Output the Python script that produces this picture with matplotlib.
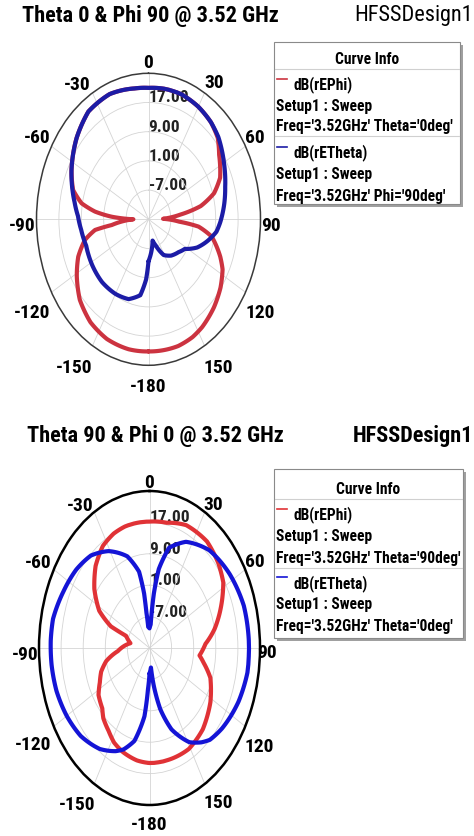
import numpy as np
import matplotlib
matplotlib.use('Agg')
import matplotlib.pyplot as plt
from matplotlib import font_manager as fm
from matplotlib.ticker import MultipleLocator
from matplotlib.patches import Rectangle
from matplotlib.lines import Line2D

W, H = 474, 836

# ---------------- data ----------------
r_min, r_max = -15, 25
ring_values = [-7, 1, 9, 17]
theta_tick_deg = [0, 30, 60, 90, 120, 150, 180, 210, 240, 270, 300, 330]
theta_tick_labels = ['0', '30', '60', '90', '120', '150', '-180',
                     '-150', '-120', '-90', '-60', '-30']

# Plot 1 : Theta 0 & Phi 90
p1_phi_ang = [-180, -168.7, -155.6, -143.7, -132, -121.4, -112.2, -104, -98.7,
              -96.8, -90, -86.9, -83.7, -79.6, -73.4, -64, -49, -36, -22, -8,
              0, 9, 19, 30, 40, 48, 55, 66, 73, 79, 83.5, 88.5, 93.4, 96.4,
              101.9, 111.8, 117.4, 126, 136, 147, 154, 163, 180]
p1_phi_db = [21.2, 21.3, 21.0, 20.0, 18.0, 15.0, 12.1, 8.4, 4.3,
             -1.8, -9.6, -1.8, 4.2, 9.3, 13.1, 15.6, 19.0, 21.5, 22.0, 21.2,
             21.0, 21.2, 21.2, 20.6, 19.7, 18.3, 15.8, 13.0, 9.5, 4.0, -3.5,
             -9.8, -4.0, 3.0, 8.1, 12.6, 14.8, 16.8, 18.6, 20.2, 20.9, 21.3,
             21.2]

p1_theta_ang = [-180, -177, -172, -162, -150, -136, -122, -108, -97, -88, -80,
                -74, -64, -49, -36, -22, -8, 0, 9, 19, 30, 40, 48, 60.5, 72,
                81, 92, 98, 106, 114, 122, 130, 141, 151, 160, 166, 180]
p1_theta_db = [-3.5, 1.5, 6.0, 8.0, 8.6, 8.9, 8.7, 8.4, 9.2, 10.2, 11.8,
               13.2, 15.6, 19.0, 21.5, 22.0, 21.2, 21.0, 21.2, 21.2, 20.6,
               19.7, 18.6, 16.0, 13.8, 12.4, 10.6, 9.5, 6.8, 4.0, 0.3, -1.0,
               -2.2, -3.8, -7.3, -9.0, -3.5]

# Plot 2 : Theta 90 & Phi 0
p2_phi_ang = [-180, -171, -160, -152, -145, -137, -132, -123, -116, -109, -102,
              -94, -80, -70, -68.5, -62.5, -53, -43, -33, -24, -16, 0, 11, 23,
              37.5, 49, 58, 65, 71, 78.5, 87, 96, 101, 109, 122, 137, 151,
              167, 180]
p2_phi_db = [14.3, 14.0, 13.2, 12.3, 10.8, 9.5, 8.0, 7.0, 5.0, 3.5, 1.0,
             -3.5, -8.0, -6.0, 0.0, 5.5, 10.0, 13.6, 16.0, 16.9, 17.2, 17.2,
             17.5, 19.0, 19.2, 18.0, 16.5, 14.0, 11.8, 9.0, 5.3, 3.2, 5.0,
             8.3, 11.0, 13.3, 14.4, 14.3, 14.3]

p2_theta_ang = [-180, -177, -174, -167, -160, -155, -145, -132, -120, -108,
                -97, -87, -78, -65, -53, -42, -31, -19, -11, -8, -7, -5, 0, 4,
                5, 6.5, 9.5, 15.5, 26, 41, 57, 72.5, 87, 100, 113, 128, 137,
                142, 149, 159, 166, 171, 174, 180]
p2_theta_db = [-8.5, -4.5, 2.5, 9.3, 12.5, 14.0, 16.4, 18.5, 19.6, 20.4,
               20.7, 20.8, 20.7, 19.3, 18.2, 16.7, 13.8, 9.7, 4.8, -1.0, -6.0,
               -9.6, -10.0, -9.0, -6.0, -1.0, 5.4, 11.5, 15.1, 18.0, 19.6,
               20.8, 21.0, 21.0, 20.0, 18.3, 17.0, 15.5, 13.0, 7.2, 1.0, -5.5,
               -10.0, -8.5]

titles = ["Theta 0 & Phi 90 @ 3.52 GHz", "Theta 90 & Phi 0 @ 3.52 GHz"]
design = "HFSSDesign1"
legend_title = "Curve Info"
legend_series = ["dB(rEPhi)", "dB(rETheta)"]
legend_setup = "Setup1 : Sweep"
legend_freq = [["Freq='3.52GHz' Theta='0deg'", "Freq='3.52GHz' Phi='90deg'"],
               ["Freq='3.52GHz' Theta='90deg'", "Freq='3.52GHz' Theta='0deg'"]]


# ---------------- font choice ----------------
def pick_font():
    entries = fm.fontManager.ttflist
    names = {e.name for e in entries}
    for nm in ['Liberation Sans Narrow', 'Arial Narrow']:
        if nm in names:
            return dict(family=[nm, 'DejaVu Sans'], stretch='normal'), 1.0
    for nm in ['Roboto Condensed', 'Open Sans Condensed', 'Noto Sans Condensed',
               'DejaVu Sans Condensed']:
        if nm in names:
            return dict(family=[nm, 'DejaVu Sans'], stretch='normal'), 1.0
    for nm in ['Liberation Sans', 'Roboto', 'Noto Sans', 'Open Sans',
               'DejaVu Sans', 'Lato', 'Inter']:
        for e in entries:
            if e.name == nm and str(e.stretch) in ('condensed', 'semi-condensed',
                                                    'extra-condensed'):
                return dict(family=[nm, 'DejaVu Sans'], stretch=e.stretch), 1.0
    return dict(family=['Liberation Sans', 'DejaVu Sans'], stretch='normal'), 0.88


FONT, SCALE = pick_font()
plt.rcParams['font.family'] = FONT['family']

# ---------------- styles ----------------
styles = [
    dict(red='#cc3340', blue='#1c1ca6', spine='#3a3a3a', spine_lw=1.1,
         box=(36.5, 73.3, 224, 292), title_xy=(22, 16), design_weight='normal',
         legend_box=(274, 42, 186, 162),
         rows=[58, 85, 107, 127, 153, 175, 196], hline=69, sep=136,
         dash=[79, 147],
         label_xy=[(148, 63), (214, 83), (255, 138), (271, 226), (260, 313),
                   (218, 368), (148, 387), (74, 368), (32, 313), (22, 226),
                   (37, 138), (77, 85)]),
    dict(red='#e03236', blue='#1414d6', spine='#000000', spine_lw=1.8,
         box=(39, 491, 221, 314), title_xy=(27, 436), design_weight='bold',
         legend_box=(274, 469, 189, 169),
         rows=[488, 515, 537, 558, 584, 605, 626], hline=499, sep=568,
         dash=[509, 577],
         label_xy=[(149, 483), (213, 505), (255, 562), (267, 653), (259, 747),
                   (218, 803), (149, 825), (77, 805), (33, 745), (25, 655),
                   (38, 563), (80, 506)]),
]
series = [((p1_phi_ang, p1_phi_db), (p1_theta_ang, p1_theta_db)),
          ((p2_phi_ang, p2_phi_db), (p2_theta_ang, p2_theta_db))]

fig = plt.figure(figsize=(W / 100, H / 100), dpi=100)
fig.patch.set_facecolor('white')


def fx(x):
    return x / W


def fy(y):
    return 1 - y / H


def ftext(x, y, s, size, weight='bold', ha='left', va='center', **kw):
    return fig.text(fx(x), fy(y), s, fontsize=size * SCALE, fontweight=weight,
                    ha=ha, va=va, family=FONT['family'],
                    fontstretch=FONT['stretch'], **kw)


for i, st in enumerate(styles):
    x0, y0, bw, bh = st['box']
    ax = fig.add_axes([fx(x0), fy(y0 + bh), bw / W, bh / H], projection='polar')
    ax.set_aspect('auto')
    ax.set_theta_zero_location('N')
    ax.set_theta_direction(-1)
    ax.set_ylim(r_min, r_max)
    ax.set_yticks(ring_values)
    ax.set_yticklabels([])
    ax.set_thetagrids(theta_tick_deg, [''] * len(theta_tick_deg))
    ax.xaxis.set_minor_locator(MultipleLocator(np.deg2rad(10 / 3)))
    ax.tick_params(axis='x', which='major', direction='in', length=5.5,
                   width=1.0, color=st['spine'])
    ax.tick_params(axis='x', which='minor', direction='in', length=3.5,
                   width=0.8, color=st['spine'])
    ax.grid(True, color='#d4d4d4', lw=0.6)
    ax.spines['polar'].set_color(st['spine'])
    ax.spines['polar'].set_linewidth(st['spine_lw'])
    for v in ring_values:
        ax.text(0, v, f'{v:.2f}', ha='left', va='baseline',
                fontsize=12.5 * SCALE, fontweight='bold', color='#222222',
                zorder=1, family=FONT['family'], fontstretch=FONT['stretch'])
    (pa, pd), (ta, td) = series[i]
    for a, d, c, z in ((pa, pd, st['red'], 3), (ta, td, st['blue'], 4)):
        ln, = ax.plot(np.deg2rad(a), d, color=c, lw=3, zorder=z,
                      solid_joinstyle='round', solid_capstyle='round')
        ln.get_path()._interpolation_steps = 24

    # angle labels
    for (lx_, ly_), lab in zip(st['label_xy'], theta_tick_labels):
        ftext(lx_, ly_, lab, 14, ha='center')

    # titles
    ftext(st['title_xy'][0], st['title_xy'][1], titles[i], 16)
    ftext(473, st['title_xy'][1], design, 16, weight=st['design_weight'],
          ha='right')

    # legend box
    lx, ly, lw_, lh = st['legend_box']
    fig.patches.append(Rectangle((fx(lx + 3), fy(ly + lh + 3)), lw_ / W, lh / H,
                                 transform=fig.transFigure, facecolor='#a0a0a0',
                                 edgecolor='none', zorder=1))
    fig.patches.append(Rectangle((fx(lx), fy(ly + lh)), lw_ / W, lh / H,
                                 transform=fig.transFigure, facecolor='white',
                                 edgecolor='#8a8a8a', lw=0.8, zorder=2))
    for yy in (st['hline'], st['sep']):
        fig.lines.append(Line2D([fx(lx + 1), fx(lx + lw_ - 1)], [fy(yy), fy(yy)],
                                transform=fig.transFigure, color='#d0d0d0',
                                lw=0.8, zorder=3))
    rows = st['rows']
    ftext(lx + lw_ / 2, rows[0] + 1, legend_title, 11.2, ha='center', zorder=4)
    cols = [st['red'], st['blue']]
    for k in range(2):
        dy = st['dash'][k]
        fig.lines.append(Line2D([fx(lx + 3), fx(lx + 13)], [fy(dy), fy(dy)],
                                transform=fig.transFigure, color=cols[k],
                                lw=1.2, zorder=4))
        ftext(lx + 20, rows[1 + 3 * k], legend_series[k], 11.2, zorder=4)
        ftext(lx + 2, rows[2 + 3 * k], legend_setup, 11.2, zorder=4)
        ftext(lx + 2, rows[3 + 3 * k], legend_freq[i][k], 11.2, zorder=4)

fig.savefig('out.png', dpi=100, facecolor='white')
